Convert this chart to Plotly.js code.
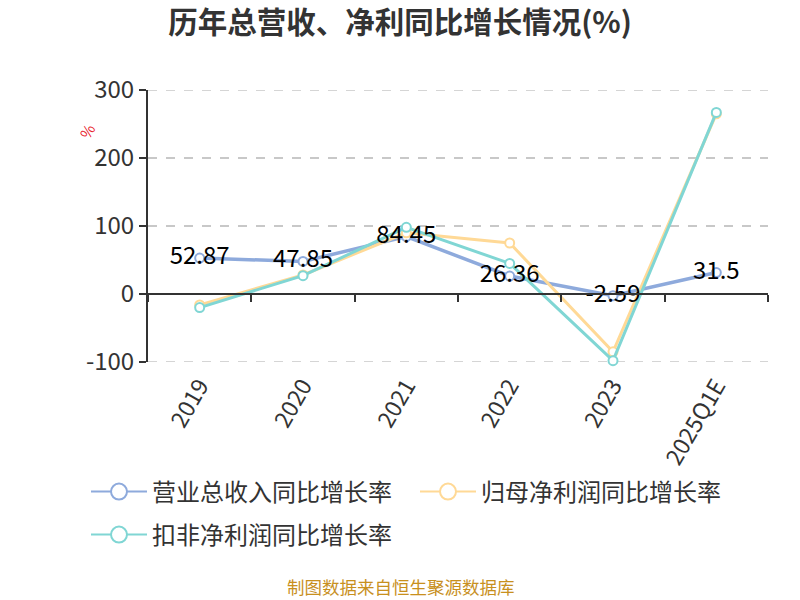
<!DOCTYPE html>
<html>
<head>
<meta charset="utf-8">
<script src="https://cdn.plot.ly/plotly-3.0.1.min.js"></script>
<style>
  html, body { margin: 0; padding: 0; background: #fff; }
  #chart { width: 800px; height: 600px; }
</style>
</head>
<body>
<div id="chart"></div>
<script>
var years = ['2019', '2020', '2021', '2022', '2023', '2025Q1E'];
var revenueGrowth = [52.87, 47.85, 84.45, 26.36, -2.59, 31.5];
var parentProfitGrowth = [-16, 28, 90, 75, -85, 265];
var deductedProfitGrowth = [-20, 27, 98, 45, -98, 267];
var seriesNames = ['营业总收入同比增长率', '归母净利润同比增长率', '扣非净利润同比增长率'];
var yTicks = [-100, 0, 100, 200, 300];

var font = '"Noto Sans CJK SC", "Noto Sans", sans-serif';
var colors = ['#8eaadc', '#ffd996', '#80d6d4'];
var widths = [3.5, 3, 3];
var legendIds = ['legend', 'legend', 'legend2'];

function makeTrace(values, i) {
  return {
    x: years,
    y: values,
    name: seriesNames[i],
    type: 'scatter',
    mode: 'lines+markers',
    line: {color: colors[i], width: widths[i]},
    marker: {symbol: 'circle', size: 9, color: '#ffffff', line: {color: colors[i], width: 2}},
    cliponaxis: false,
    showlegend: false,
    hoverinfo: 'none'
  };
}

// legend-only entries with bigger symbols
function legendTrace(i) {
  return {
    x: [null], y: [null],
    name: seriesNames[i],
    type: 'scatter',
    mode: 'lines+markers',
    legend: legendIds[i],
    line: {color: colors[i], width: 2},
    marker: {symbol: 'circle', size: 16, color: '#ffffff', line: {color: colors[i], width: 2}},
    hoverinfo: 'none'
  };
}

var data = [
  makeTrace(revenueGrowth, 0),
  makeTrace(parentProfitGrowth, 1),
  makeTrace(deductedProfitGrowth, 2),
  {
    x: years, y: revenueGrowth, type: 'scatter', mode: 'text',
    text: revenueGrowth.map(function (v) { return String(v); }),
    textposition: 'middle center',
    textfont: {family: font, size: 24, color: '#000'},
    cliponaxis: false, showlegend: false, hoverinfo: 'none'
  },
  // zero-line axis with ticks between categories
  {
    x: years, y: revenueGrowth, xaxis: 'x2', type: 'scatter', mode: 'none',
    showlegend: false, hoverinfo: 'none'
  },
  legendTrace(0),
  legendTrace(1),
  legendTrace(2)
];

var legendFont = {family: font, size: 24, color: '#333'};

var layout = {
  width: 800,
  height: 600,
  paper_bgcolor: '#fff',
  plot_bgcolor: '#fff',
  margin: {l: 148, r: 32, t: 90, b: 238},
  font: {family: font, color: '#333'},
  title: {
    text: '<b>历年总营收、净利同比增长情况(%)</b>',
    font: {family: font, size: 29.5, color: '#333'},
    x: 0.5, xanchor: 'center', y: 0.962, yanchor: 'middle'
  },
  showlegend: true,
  legend: {
    orientation: 'h',
    x: -0.1, xanchor: 'left',
    y: -0.478, yanchor: 'middle',
    font: legendFont,
    itemwidth: 56,
    entrywidth: 258
  },
  legend2: {
    orientation: 'h',
    x: -0.1, xanchor: 'left',
    y: -0.636, yanchor: 'middle',
    font: legendFont,
    itemwidth: 56
  },
  xaxis: {
    type: 'category',
    categoryarray: years,
    showline: false,
    showgrid: false,
    zeroline: false,
    ticks: '',
    tickangle: -60,
    ticklabelstandoff: 5,
    tickfont: {family: font, size: 23, color: '#333'},
    range: [-0.5, 5.5]
  },
  xaxis2: {
    type: 'category',
    overlaying: 'x',
    anchor: 'free',
    position: 0.25,
    side: 'bottom',
    range: [-0.5, 5.5],
    showline: true,
    linecolor: '#333',
    linewidth: 2,
    ticks: 'outside',
    tickson: 'boundaries',
    ticklen: 7,
    tickwidth: 2,
    tickcolor: '#333',
    showticklabels: false,
    showgrid: false,
    zeroline: false
  },
  yaxis: {
    range: [-100, 300],
    tickvals: yTicks,
    ticktext: yTicks.map(String),
    showline: true,
    linecolor: '#333',
    linewidth: 2,
    ticks: 'outside',
    ticklen: 7,
    tickwidth: 2,
    tickcolor: '#333',
    tickfont: {family: font, size: 24, color: '#333'},
    showgrid: true,
    gridcolor: '#c8c8c8',
    griddash: 'dash',
    gridwidth: 1.5,
    zeroline: false
  },
  // grid lines at the range ends are not drawn by plotly, add them
  shapes: [yTicks[0], yTicks[yTicks.length - 1]].map(function (v) {
    return {
      type: 'line', xref: 'paper', yref: 'y', x0: 0, x1: 1, y0: v, y1: v,
      line: {color: '#c8c8c8', width: 1.5, dash: 'dash'}, layer: 'below'
    };
  }),
  annotations: [
    {
      text: '%', xref: 'paper', yref: 'paper',
      x: -0.098, y: 0.85, xanchor: 'center', yanchor: 'middle',
      textangle: -60, showarrow: false,
      font: {family: font, size: 15, color: '#e8202a'}
    },
    {
      text: '制图数据来自恒生聚源数据库', xref: 'paper', yref: 'paper',
      x: 0.408, y: -0.825, xanchor: 'center', yanchor: 'middle',
      showarrow: false,
      font: {family: font, size: 17.5, color: '#c8901e'}
    }
  ]
};

Plotly.newPlot('chart', data, layout, {displayModeBar: false, staticPlot: true});
</script>
</body>
</html>
